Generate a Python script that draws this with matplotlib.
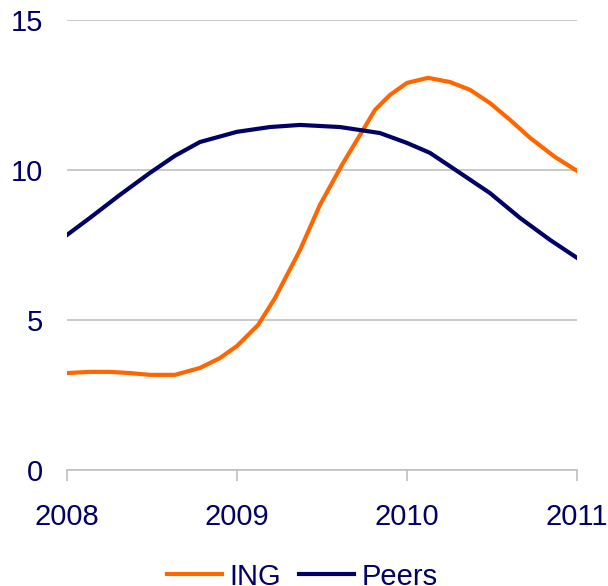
import matplotlib.pyplot as plt
import numpy as np

plt.rcParams['font.family'] = ['Liberation Sans', 'DejaVu Sans']

# ING and peers
ing_x = [2008.0, 2008.135, 2008.253, 2008.371, 2008.488, 2008.635, 2008.782, 2008.9,
         2009.0, 2009.124, 2009.224, 2009.371, 2009.488, 2009.618, 2009.735, 2009.812,
         2009.9, 2010.0, 2010.124, 2010.253, 2010.371, 2010.488, 2010.606, 2010.724,
         2010.871, 2011.0]
ing_y = [3.23, 3.27, 3.27, 3.23, 3.17, 3.17, 3.4, 3.73,
         4.13, 4.83, 5.73, 7.33, 8.83, 10.17, 11.27, 12.0,
         12.5, 12.9, 13.07, 12.93, 12.67, 12.23, 11.67, 11.07,
         10.43, 9.97]

peers_x = [2008.0, 2008.135, 2008.312, 2008.488, 2008.635, 2008.782, 2009.0, 2009.194,
           2009.371, 2009.606, 2009.841, 2010.0, 2010.135, 2010.312, 2010.488, 2010.665,
           2010.841, 2011.0]
peers_y = [7.83, 8.4, 9.17, 9.9, 10.47, 10.93, 11.27, 11.43,
           11.5, 11.43, 11.23, 10.9, 10.57, 9.9, 9.23, 8.4,
           7.67, 7.07]

years = [2008, 2009, 2010, 2011]
yticks = [0, 5, 10, 15]

navy = '#000066'
orange = '#FF6600'

fig = plt.figure(figsize=(6.08, 5.86), dpi=100)
ax = fig.add_axes([0.110, 0.198, 0.839, 0.768])

ax.plot(ing_x, ing_y, color=orange, lw=3, label='ING')
ax.plot(peers_x, peers_y, color=navy, lw=3, label='Peers')

ax.set_xlim(2008, 2011)
ax.set_ylim(0, 15)
ax.set_xticks(years)
ax.set_yticks(yticks)
ax.set_xticklabels([str(y) for y in years])
ax.grid(axis='y', color='#C0C0C0', lw=1.2)
ax.set_axisbelow(True)

for s in ['left', 'right', 'top']:
    ax.spines[s].set_visible(False)
ax.spines['bottom'].set_color('#C0C0C0')
ax.spines['bottom'].set_linewidth(1.2)

ax.tick_params(axis='x', colors='#C0C0C0', length=8, width=1.2, pad=16,
               labelcolor=navy, labelsize=21)
ax.tick_params(axis='y', length=0, pad=17, labelcolor=navy, labelsize=21)

fig.legend(loc='center', bbox_to_anchor=(0.497, 0.016), ncol=2, frameon=False,
           fontsize=21, labelcolor=navy, handlelength=1.9, handletextpad=0.25,
           columnspacing=0.6)

fig.savefig('out.png', dpi=100)
